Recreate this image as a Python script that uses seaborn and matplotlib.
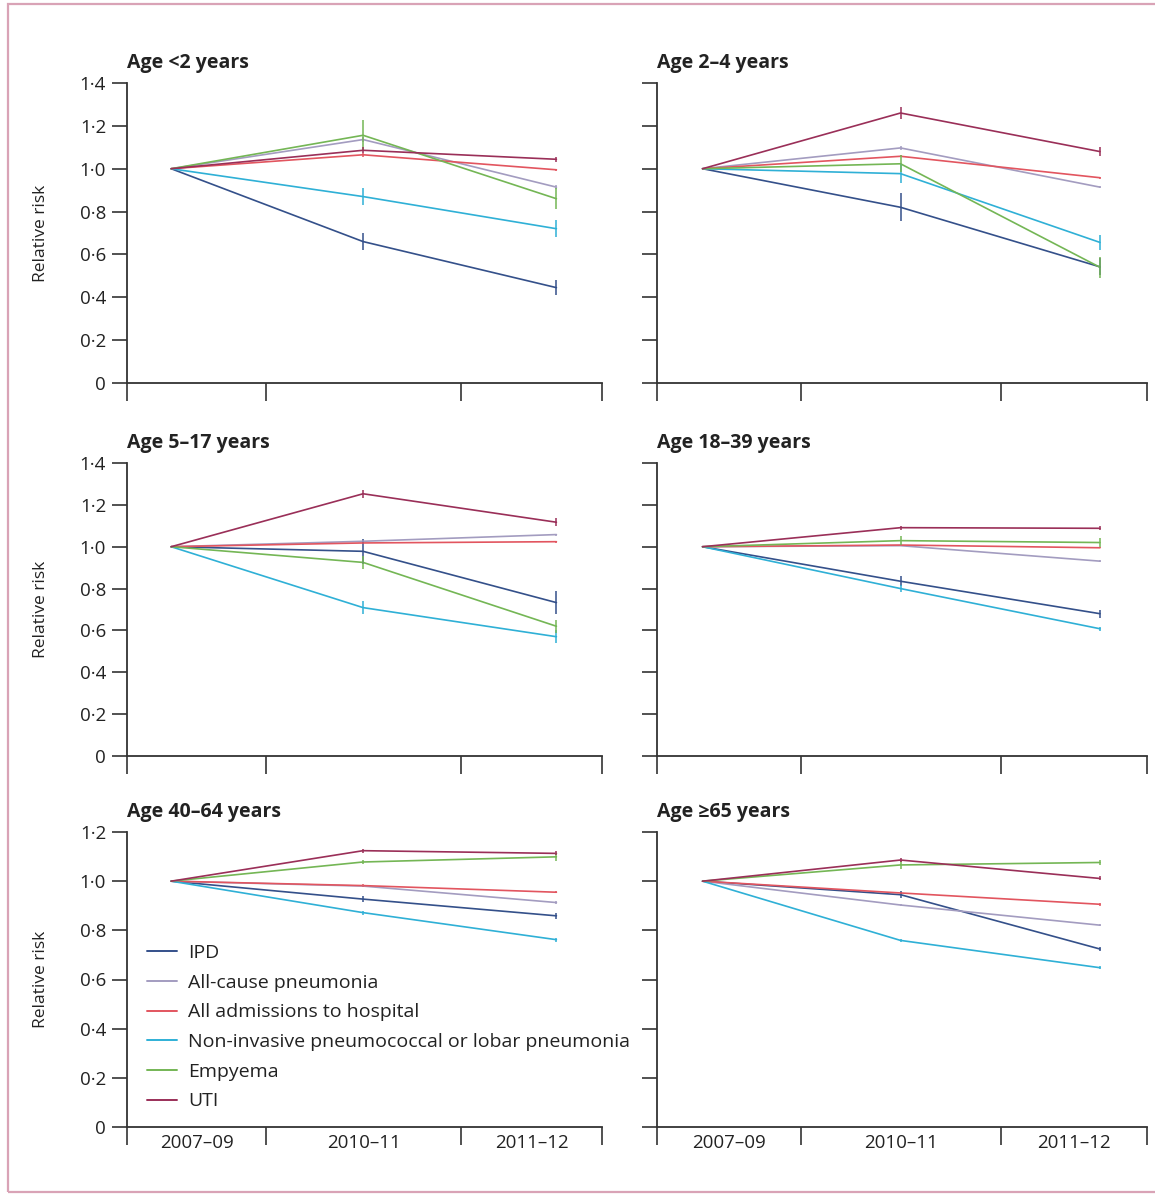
import numpy as np
import pandas as pd
import matplotlib
matplotlib.use("Agg")
import matplotlib.pyplot as plt
import seaborn as sns
from matplotlib.lines import Line2D
from matplotlib.patches import Rectangle

# categories
periods = ["2007–09", "2010–11", "2011–12"]
series = ["IPD", "All-cause pneumonia", "All admissions to hospital",
          "Non-invasive pneumococcal or lobar pneumonia", "Empyema", "UTI"]
colors = ["#34508a", "#a39cc0", "#e2555f", "#2fb0d6", "#74b655", "#9a2f58"]
panel_titles = ["Age <2 years", "Age 2–4 years", "Age 5–17 years",
                "Age 18–39 years", "Age 40–64 years", "Age ≥65 years"]

# relative risk, rows follow `series`, columns follow `periods`
rr_under2 = [[1.0, 0.66, 0.445], [1.0, 1.136, 0.914], [1.0, 1.065, 0.995],
             [1.0, 0.87, 0.72], [1.0, 1.156, 0.86], [1.0, 1.086, 1.044]]
rr_2to4 = [[1.0, 0.82, 0.542], [1.0, 1.097, 0.914], [1.0, 1.058, 0.958],
           [1.0, 0.977, 0.656], [1.0, 1.023, 0.54], [1.0, 1.26, 1.08]]
rr_5to17 = [[1.0, 0.978, 0.733], [1.0, 1.026, 1.058], [1.0, 1.018, 1.024],
            [1.0, 0.709, 0.57], [1.0, 0.925, 0.62], [1.0, 1.253, 1.117]]
rr_18to39 = [[1.0, 0.835, 0.68], [1.0, 1.005, 0.931], [1.0, 1.008, 0.995],
             [1.0, 0.80, 0.608], [1.0, 1.029, 1.02], [1.0, 1.091, 1.088]]
rr_40to64 = [[1.0, 0.927, 0.859], [1.0, 0.98, 0.913], [1.0, 0.982, 0.955],
             [1.0, 0.872, 0.762], [1.0, 1.078, 1.099], [1.0, 1.124, 1.113]]
rr_65plus = [[1.0, 0.945, 0.724], [1.0, 0.903, 0.821], [1.0, 0.952, 0.906],
             [1.0, 0.759, 0.648], [1.0, 1.066, 1.076], [1.0, 1.086, 1.011]]

# half widths of the 95% CI bars
ci_under2 = [[0, 0.04, 0.035], [0, 0.01, 0.01], [0, 0.01, 0.005],
             [0, 0.04, 0.04], [0, 0.07, 0.05], [0, 0.015, 0.012]]
ci_2to4 = [[0, 0.065, 0.04], [0, 0.01, 0.005], [0, 0.005, 0.005],
           [0, 0.045, 0.035], [0, 0.04, 0.05], [0, 0.03, 0.02]]
ci_5to17 = [[0, 0.06, 0.055], [0, 0.005, 0.005], [0, 0.005, 0.005],
            [0, 0.03, 0.03], [0, 0.03, 0.03], [0, 0.02, 0.02]]
ci_18to39 = [[0, 0.025, 0.02], [0, 0.003, 0.005], [0, 0.003, 0.003],
             [0, 0.015, 0.01], [0, 0.02, 0.02], [0, 0.01, 0.01]]
ci_40to64 = [[0, 0.012, 0.012], [0, 0.005, 0.005], [0, 0.005, 0.005],
             [0, 0.008, 0.008], [0, 0.01, 0.015], [0, 0.008, 0.008]]
ci_65plus = [[0, 0.015, 0.01], [0, 0.005, 0.005], [0, 0.005, 0.005],
             [0, 0.005, 0.005], [0, 0.015, 0.01], [0, 0.01, 0.008]]

panel_rr = [rr_under2, rr_2to4, rr_5to17, rr_18to39, rr_40to64, rr_65plus]
panel_ci = [ci_under2, ci_2to4, ci_5to17, ci_18to39, ci_40to64, ci_65plus]
panel_ymax = [1.4, 1.4, 1.4, 1.4, 1.2, 1.2]

sns.set_style("ticks")
plt.rcParams['font.family'] = ['Open Sans', 'DejaVu Sans']

# where the periods sit along the x axis (axes run 0..1)
x_pos = {"2007–09": 0.093, "2010–11": 0.497, "2011–12": 0.904}
x_bounds = [0, 0.293, 0.703, 1.0]
label_pos = [(x_bounds[i] + x_bounds[i + 1]) / 2 for i in range(3)]

W, H = 1155, 1196
fig = plt.figure(figsize=(W / 100, H / 100), dpi=100)
fig.patches.append(Rectangle((8 / W, 4 / H), 1.2, 1 - 8 / H, transform=fig.transFigure,
                             fill=False, edgecolor="#d9a3b6", lw=1.6))

col_left = [(127, 602), (657, 1147)]
row_tb = [(83, 383), (463, 756), (832, 1127)]
palette = dict(zip(series, colors))

for k in range(6):
    r, c = divmod(k, 2)
    x0, x1 = col_left[c]
    y0, y1 = row_tb[r]
    ax = fig.add_axes([x0 / W, 1 - y1 / H, (x1 - x0) / W, (y1 - y0) / H])

    rows = []
    for s, vals, errs in zip(series, panel_rr[k], panel_ci[k]):
        for p, v, e in zip(periods, vals, errs):
            rows.append({"series": s, "period": p, "x": x_pos[p], "rr": v, "ci": e})
    df = pd.DataFrame(rows)

    sns.lineplot(data=df, x="x", y="rr", hue="series", hue_order=series, palette=palette,
                 ax=ax, legend=False, linewidth=1.2, sort=False, errorbar=None)
    for s in series:
        d = df[(df["series"] == s) & (df["ci"] > 0)]
        ax.vlines(d["x"], d["rr"] - d["ci"], d["rr"] + d["ci"], color=palette[s], lw=1.1)

    ymax = panel_ymax[k]
    ax.set_xlim(0, 1)
    ax.set_ylim(0, ymax)
    yt = np.round(np.arange(0, ymax + 0.01, 0.2), 1)
    ax.set_yticks(yt)
    if c == 0:
        ax.set_yticklabels(["0" if t == 0 else f"{t:.1f}".replace(".", "·") for t in yt])
        ax.set_ylabel("Relative risk", fontsize=12.5, color="#222222")
        ax.yaxis.set_label_coords(-0.165, 0.5)
    else:
        ax.set_yticklabels([])
        ax.set_ylabel("")
    ax.set_xticks(x_bounds)
    ax.set_xticklabels([])
    ax.set_xlabel("")
    if r == 2:
        ax.set_xticks(label_pos, minor=True)
        ax.set_xticklabels(periods, minor=True)
    ax.tick_params(axis="x", which="major", direction="out", length=13, width=1.2, color="#333333")
    ax.tick_params(axis="x", which="minor", length=0, pad=5, labelsize=13.5, labelcolor="#222222")
    ax.tick_params(axis="y", direction="out", length=11, width=1.2, color="#333333",
                   labelsize=13.5, labelcolor="#222222", pad=4)
    for sp in ["top", "right"]:
        ax.spines[sp].set_visible(False)
    for sp in ["left", "bottom"]:
        ax.spines[sp].set_linewidth(1.3)
        ax.spines[sp].set_color("#333333")
    ax.set_title(panel_titles[k], loc="left", fontsize=14, fontweight="bold",
                 color="#222222", pad=11)

    if k == 4:
        handles = [Line2D([], [], color=col, lw=1.4) for col in colors]
        ax.legend(handles, series, loc="lower left", bbox_to_anchor=(0.025, 0.03),
                  frameon=False, fontsize=14, handlelength=1.55, handletextpad=0.6,
                  labelspacing=0.6, borderaxespad=0, labelcolor="#222222")

fig.savefig("out.png", dpi=100)
